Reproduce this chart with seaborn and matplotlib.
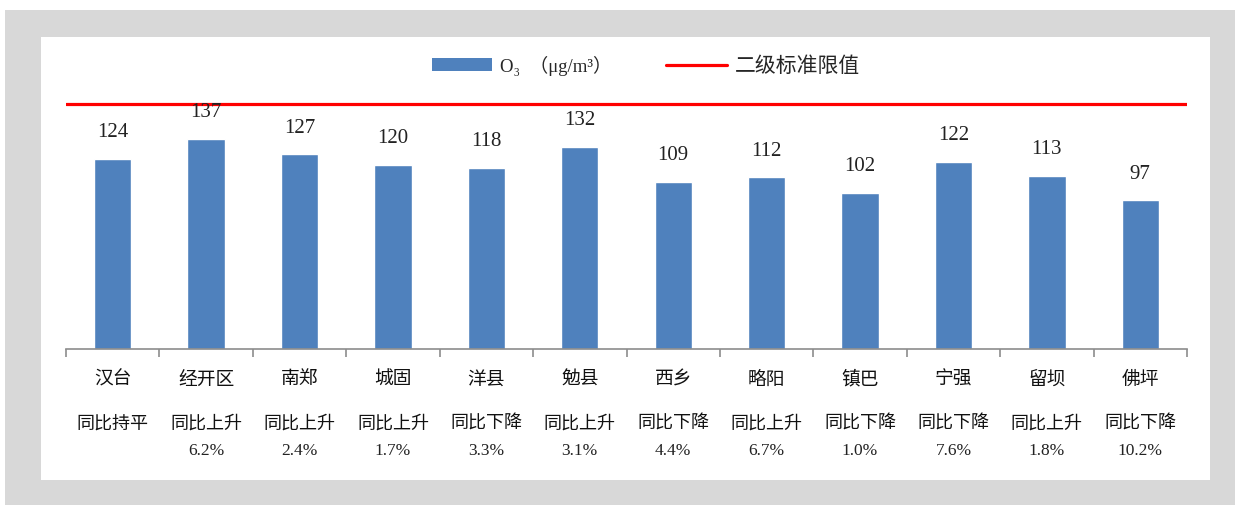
import matplotlib
matplotlib.use("Agg")
import matplotlib.pyplot as plt
import seaborn as sns
import pandas as pd
from matplotlib.patches import Rectangle
from matplotlib.lines import Line2D

# ================== 数据 ==================
districts = ["汉台", "经开区", "南郑", "城固", "洋县", "勉县",
             "西乡", "略阳", "镇巴", "宁强", "留坝", "佛坪"]
o3_values = [124, 137, 127, 120, 118, 132, 109, 112, 102, 122, 113, 97]
trend_text = ["同比持平", "同比上升", "同比上升", "同比上升", "同比下降", "同比上升",
              "同比下降", "同比上升", "同比下降", "同比下降", "同比上升", "同比下降"]
trend_pct = ["", "6.2%", "2.4%", "1.7%", "3.3%", "3.1%",
             "4.4%", "6.7%", "1.0%", "7.6%", "1.8%", "10.2%"]
standard_limit = 160

df = pd.DataFrame({"区县": districts, "O3": o3_values})

# ================== 设置 ==================
sns.set_style("white")
plt.rcParams["font.family"] = ["Noto Sans CJK SC", "DejaVu Sans"]
bar_color = "#4f81bd"
serif = ["Liberation Serif", "Noto Sans CJK SC", "DejaVu Serif"]

fig = plt.figure(figsize=(12.35, 5.05), dpi=100)
fig.patch.set_facecolor("white")
W, H = 1235, 505
# 灰色外框 + 白色内框
fig.patches.append(Rectangle((5 / W, 0), 1 - 5 / W, 1 - 10 / H, transform=fig.transFigure,
                             facecolor="#d8d8d8", edgecolor="none", zorder=-2))
fig.patches.append(Rectangle((41 / W, 1 - 480 / H), (1210 - 41) / W, (480 - 37) / H,
                             transform=fig.transFigure, facecolor="white",
                             edgecolor="none", zorder=-1))

ax = fig.add_axes([66 / W, 1 - 349 / H, (1187 - 66) / W, (349 - 96) / H])
ax.set_facecolor("none")

sns.barplot(data=df, x="区县", y="O3", color=bar_color, saturation=1,
            width=0.4, ax=ax)
ax.axhline(standard_limit, color="#ff0000", lw=2.3, zorder=3)

ax.bar_label(ax.containers[0], labels=[str(v) for v in o3_values], padding=12,
             fontsize=15, family=serif, color="#222222")

ax.set_xlim(-0.5, len(districts) - 0.5)
ax.set_ylim(0, 165)
ax.set_yticks([])
ax.set_xlabel("")
ax.set_ylabel("")
for s in ["top", "right", "left"]:
    ax.spines[s].set_visible(False)
ax.spines["bottom"].set_color("#8c8c8c")
ax.spines["bottom"].set_linewidth(1.2)

ax.set_xticks(range(len(districts)))
ax.set_xticklabels(districts, fontsize=13.5, color="#111111")
ax.tick_params(axis="x", which="major", length=0, pad=14)
ax.set_xticks([i - 0.5 for i in range(len(districts) + 1)], minor=True)
ax.tick_params(axis="x", which="minor", bottom=True, length=6, width=1.2,
               color="#8c8c8c", direction="out")

tr = ax.get_xaxis_transform()
for i, (t, p) in enumerate(zip(trend_text, trend_pct)):
    ax.text(i, -0.296, t, transform=tr, ha="center", va="center", fontsize=13, color="#111111")
    if p:
        ax.text(i, -0.405, p, transform=tr, ha="center", va="center", fontsize=12.5,
                family=serif, color="#222222")

# ================== 图例 ==================
handles = [Rectangle((0, 0), 1, 1, facecolor=bar_color, edgecolor="none"),
           Line2D([0], [0], color="#ff0000", lw=2.3)]
labels = ["O₃  （μg/m³）", "二级标准限值"]
leg = fig.legend(handles, labels, loc="center", bbox_to_anchor=(646 / W, 1 - 66 / H), ncol=2,
                 frameon=False, fontsize=15, handlelength=2.9, handleheight=0.6,
                 columnspacing=2.6, handletextpad=0.4)
leg.get_texts()[0].set_family(serif)
leg.get_texts()[0].set_fontsize(13.5)

plt.savefig("out.png", dpi=100, facecolor=fig.get_facecolor())
